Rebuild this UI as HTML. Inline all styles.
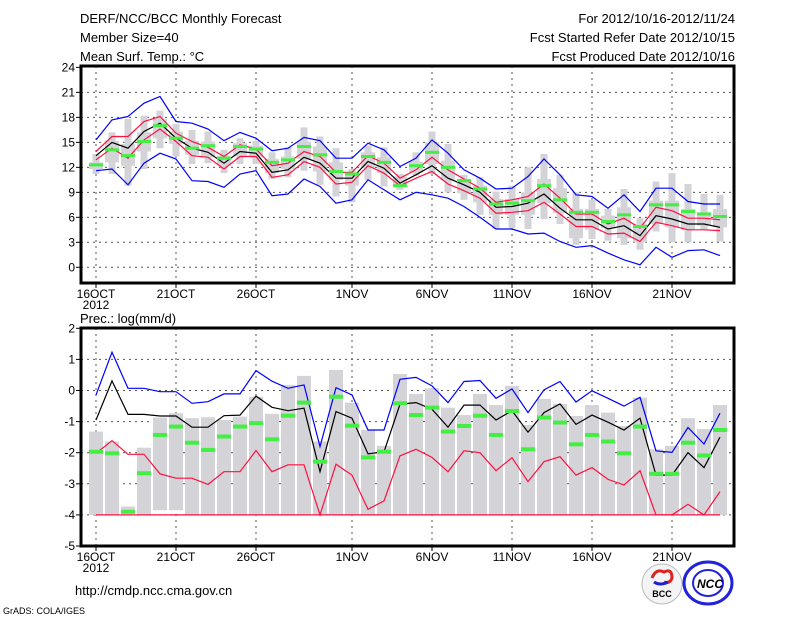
<!DOCTYPE html>
<html><head><meta charset="utf-8"><style>
body{margin:0;background:#fff;width:800px;height:618px;overflow:hidden}
svg{display:block}
text{font-family:"Liberation Sans",sans-serif;fill:#000}
</style></head><body>
<svg id="c" width="800" height="618" viewBox="0 0 800 618">
<g font-size="13">
<text x="80" y="23">DERF/NCC/BCC Monthly Forecast</text>
<text x="80" y="42">Member Size=40</text>
<text x="80" y="61">Mean Surf. Temp.: °C</text>
<text x="735" y="23" text-anchor="end">For 2012/10/16-2012/11/24</text>
<text x="735" y="42" text-anchor="end">Fcst Started Refer Date 2012/10/15</text>
<text x="735" y="61" text-anchor="end">Fcst Produced Date 2012/10/16</text>
<text x="80" y="323">Prec.: log(mm/d)</text>
<text x="75" y="595">http://cmdp.ncc.cma.gov.cn</text>
<text x="3" y="614" font-size="9">GrADS: COLA/IGES</text>
</g>
<g>
<circle cx="662" cy="584" r="20" fill="#f4f4f4" stroke="#bbb"/>
<path d="M652 578 q4 -10 12 -6 q8 -4 8 6 q-2 6 -8 4" stroke="#d22" stroke-width="3" fill="none"/>
<path d="M654 582 q6 4 14 0" stroke="#22c" stroke-width="3" fill="none"/>
<text x="662" y="597" font-size="9" font-weight="bold" text-anchor="middle" fill="#226">BCC</text>
<ellipse cx="708" cy="583" rx="24" ry="21" fill="#fff" stroke="#22d" stroke-width="3"/>
<ellipse cx="708" cy="583" rx="15" ry="13" fill="none" stroke="#22d" stroke-width="2"/>
<text x="710" y="588" font-size="12" font-weight="bold" text-anchor="middle" fill="#22d" font-style="italic">NCC</text>
</g>
<g id="topPanel"></g>
<g id="botPanel"></g>
</svg>
<script>
const days=40;
const dayTicks=[0,5,10,16,21,26,31,36];
const dayTickLabels=["16OCT","21OCT","26OCT","1NOV","6NOV","11NOV","16NOV","21NOV"];
const tTicks=[0,3,6,9,12,15,18,21,24];
const pTicks=[-5,-4,-3,-2,-1,0,1,2];
// temperature
const tBlueHi=[15.3,17.7,18.1,19.7,20.5,17.5,17.3,16.6,15.2,16.2,15.5,14,14.3,15.6,15.2,13.1,13.1,14.9,14.1,12.1,13.1,15.3,13.7,11.7,10.7,9.4,9.5,10.9,13,11.1,8.7,8.5,7.1,8.7,6.7,9.5,9.5,7.9,7.6,7.6];
const tBlueLo=[11.6,11.8,9.9,12.5,13.7,13,10.4,10.3,9.6,11.2,11.6,8.6,8.8,10.6,9.7,7.7,8.1,10.5,9.3,8.1,9,8.7,8.3,7.3,6,4.6,4.6,4,4.1,3.1,2.4,2.6,1.7,0.9,0.3,2.4,1.2,2,2.1,1.4];
const tMean=[13.4,15,14.3,16.3,17.3,15.5,14.3,13.8,12.5,13.9,13.7,11.4,11.7,13.2,12.5,10.7,10.7,12.7,11.9,10.1,11.1,12.2,10.7,9.9,9,7.2,7.3,7.7,8.8,7.1,5.7,5.7,4.6,5,3.8,6.2,5.8,5.2,5.2,4.8];
const tRedHi=[13.9,15.7,15.7,17.5,18.1,16.1,15.1,14.4,13.3,14.7,14.2,12.2,12.5,13.9,13.3,11.4,11.4,13.4,12.5,10.7,11.7,13.2,11.7,10.6,9.5,7.8,8.1,8.5,10,8.3,6.4,6.4,5.2,5.9,4.7,7.2,6.8,5.9,5.9,5.7];
const tRedLo=[12.9,14.3,13.1,15.3,16.6,15.1,13.4,13.2,11.8,13.3,13.3,10.8,11.1,12.7,12,10,10.2,12.2,11.3,9.8,10.7,11.5,10,9.2,8.3,6.5,6.6,6.8,7.8,6.4,4.9,4.9,4,4.1,3.1,5.4,5,4.5,4.5,4.4];
const tObs=[12.3,14.1,13.4,15.1,17,15.5,14.3,14.6,13.1,14.5,14.2,12.6,12.9,14.5,13.5,11.5,11.2,13.3,12.6,9.8,12.2,13.8,12,10.4,9.4,7.6,7.7,8,9.8,8.1,6.6,6.6,5.5,6.3,4.9,7.5,7.5,6.7,6.4,6.1];
const tMax=[13.6,16.2,17.8,18.2,18.8,17.2,16.5,16.3,14.1,15.5,15.2,13.8,14.4,16.8,15.7,14.3,11.8,14.6,14.4,11.2,13.8,16.3,14.8,11.1,10.8,9.1,9.8,12,13.6,11.1,9,8.1,7,9.4,5.9,10.3,11.3,10,8.8,8.7];
const tMin=[11.2,11.2,9.8,11.8,14.3,13.3,12.4,12.5,11.3,12.4,12.4,10.6,10.8,11.6,9.9,8.5,7.8,10.5,9.7,9.3,11,11.2,9,8.1,6.3,4.6,4.7,4.6,5.8,5.2,2.7,3.4,3.2,2.7,2.1,4.3,3,3,4.5,3.1];
const tQ3=[12.6,15.2,14.8,16.2,17.8,16.3,15.2,15.1,13.4,14.9,14.6,13,13.3,15.1,14.5,12.6,11.2,13.8,13.2,10.9,12.7,15,12.8,10.6,9.8,8.2,8.2,9,10.6,9.5,7,7,6.2,7.2,5.2,8,8,7,6.6,7];
const tQ1=[11.8,12.6,12.2,13.9,15.5,14.8,13.5,13.2,12.2,13.3,13.2,11.3,11.8,13,11.5,10.5,9.8,11.9,11.3,9.8,11.4,12.4,10.5,8.9,7.8,6.3,6.3,6.3,7.7,6.5,3.5,4.5,4.7,3.5,3,5.2,4.8,4.5,5,4.8];
// precipitation
const pBlue=[-0.14,1.23,0.07,0.07,-0.04,-0.04,-0.41,-0.36,-0.11,-0.11,0.64,0.3,0.07,0.18,-1.8,0.09,-0.14,-1.27,-1.27,0.36,0.42,0.15,-0.39,0.29,0.32,-0.25,0.05,-0.71,0.02,0.29,-0.37,-0.01,-0.25,-0.5,-0.22,-1.94,-1.99,-1.19,-1.72,-0.73];
const pMean=[-0.95,0.31,-0.77,-0.77,-0.82,-0.82,-1.18,-1.18,-0.81,-0.79,-0.18,-0.54,-0.65,-0.57,-2.61,-0.68,-0.89,-2.04,-1.97,-0.44,-0.39,-0.6,-1.18,-0.47,-0.47,-0.95,-0.65,-1.34,-0.71,-0.43,-1.09,-0.79,-1.02,-1.27,-0.89,-2.72,-2.72,-2,-2.48,-1.5];
const pRed=[-2.02,-1.61,-2.05,-2.05,-2.68,-2.82,-2.82,-3.02,-2.61,-2.61,-1.93,-2.61,-2.39,-2.39,-4,-2.37,-2.72,-3.82,-3.55,-2.1,-1.89,-2.15,-2.61,-1.94,-2,-2.58,-2.16,-2.93,-2.29,-2.13,-2.72,-2.48,-2.86,-3.04,-2.58,-4,-4,-3.66,-4,-3.25];
const pRedLo=[-4,-4,-4,-4,-4,-4,-4,-4,-4,-4,-4,-4,-4,-4,-4,-4,-4,-4,-4,-4,-4,-4,-4,-4,-4,-4,-4,-4,-4,-4,-4,-4,-4,-4,-4,-4,-4,-4,-4,-4];
const pObs=[-1.97,-2.02,-3.9,-2.66,-1.43,-1.16,-1.68,-1.91,-1.48,-1.16,-1.05,-1.57,-0.81,-0.39,-2.29,-0.2,-1.13,-2.15,-1.97,-0.41,-0.79,-0.55,-1.32,-1.14,-0.81,-1.43,-0.66,-1.89,-0.87,-1.03,-1.73,-1.43,-1.64,-2.02,-1.16,-2.68,-2.68,-1.68,-2.09,-1.27];
const pTop=[-1.32,-1.64,-3.73,-1.84,-0.87,-0.73,-0.89,-0.86,-0.95,-0.84,-0.2,-0.75,0.18,0.47,-1.64,0.66,-0.39,-1.27,-1.78,0.53,-0.11,0.07,-0.55,-0.79,-0.11,-0.47,0.15,-1.11,-0.27,-0.43,-0.82,-0.47,-0.71,-1.14,-0.23,-1.89,-1.78,-0.89,-1.24,-0.47];
const pBot=[-4,-4,-3.95,-4,-3.85,-3.85,-4,-4,-4,-4,-4,-4,-4,-4,-4,-4,-4,-4,-4,-4,-4,-4,-4,-4,-4,-4,-4,-4,-4,-4,-4,-4,-4,-4,-4,-4,-4,-4,-4,-4];

const NS='http://www.w3.org/2000/svg';
function mk(p,tag,a){const e=document.createElementNS(NS,tag);for(const k in a)e.setAttribute(k,a[k]);p.appendChild(e);return e;}
const X=i=>96+16*i;
function panel(g,L,T,R,B,Y,ticks,gridTicks){
  mk(g,'rect',{x:L,y:T,width:R-L,height:B-T,fill:'#fff'});
  gridTicks.forEach(v=>{const l=mk(g,'line',{x1:L,x2:R,y1:Y(v),y2:Y(v),stroke:'#555','stroke-dasharray':'2,4'});
    
    });
  dayTicks.forEach(d=>{const l=mk(g,'line',{x1:X(d),x2:X(d),y1:T,y2:B,stroke:'#555','stroke-dasharray':'2,4'});
    
    });
  ticks.forEach(v=>{mk(g,'line',{x1:L-5,x2:L,y1:Y(v),y2:Y(v),stroke:'#000'});
    const t=mk(g,'text',{x:L-6,y:Y(v)+4,'text-anchor':'end','font-size':'12'});t.textContent=v;
    
    });
  dayTicks.forEach((d,k)=>{mk(g,'line',{x1:X(d),x2:X(d),y1:B,y2:B+5,stroke:'#000'});
    const t=mk(g,'text',{x:X(d),y:B+15,'text-anchor':'middle','font-size':'12'});t.textContent=dayTickLabels[k];
    
    });
  const y2=mk(g,'text',{x:X(0),y:B+26,'text-anchor':'middle','font-size':'12'});y2.textContent='2012';
  
  
}
function line(g,arr,Y,col,name){
  const pts=arr.map((v,i)=>X(i)+','+Y(v).toFixed(1)).join(' ');
  const p=mk(g,'polyline',{points:pts,fill:'none',stroke:col,'stroke-width':'1.2'});
  
  
}
// top panel
const topG=document.getElementById('topPanel');
const YT=v=>267.3-v*8.33;
panel(topG,81,66,734,283,YT,tTicks,[0,3,6,9,12,15,18,21]);
for(let i=0;i<days;i++){
  const w=mk(topG,'rect',{x:X(i)-3.5,y:YT(tMax[i]),width:7,height:YT(tMin[i])-YT(tMax[i]),fill:'#d3d3d8'});
  
  
  const b=mk(topG,'rect',{x:X(i)-7,y:YT(tQ3[i]),width:14,height:YT(tQ1[i])-YT(tQ3[i]),fill:'#d3d3d8'});
  
  
}
line(topG,tBlueHi,YT,'#0000ff','temp-upper-blue');
line(topG,tBlueLo,YT,'#0000ff','temp-lower-blue');
line(topG,tRedHi,YT,'#ff1040','temp-upper-red');
line(topG,tRedLo,YT,'#ff1040','temp-lower-red');
line(topG,tMean,YT,'#000','temp-mean');
for(let i=0;i<days;i++){
  const o=mk(topG,'rect',{x:X(i)-7,y:YT(tObs[i])-1.5,width:14,height:3,fill:'#44ee44'});
  
  
}
mk(topG,'rect',{x:81,y:66,width:653,height:217,fill:'none',stroke:'#000','stroke-width':'3'});
// bottom panel
const botG=document.getElementById('botPanel');
const YB=v=>390.5-v*31.1;
panel(botG,81,328,734,546,YB,pTicks,[-4,-3,-2,-1,0,1]);
for(let i=0;i<days;i++){
  const b=mk(botG,'rect',{x:X(i)-7,y:YB(pTop[i]),width:14,height:YB(pBot[i])-YB(pTop[i]),fill:'#d3d3d8'});
  
  
}
line(botG,pBlue,YB,'#0000ff','prec-upper-blue');
line(botG,pRed,YB,'#ff1040','prec-lower-red');
line(botG,pRedLo,YB,'#ff1040','prec-floor-red');
line(botG,pMean,YB,'#000','prec-mean');
for(let i=0;i<days;i++){
  const o=mk(botG,'rect',{x:X(i)-7,y:YB(pObs[i])-2,width:14,height:4,fill:'#44ee44'});
  
  
}
mk(botG,'rect',{x:81,y:328,width:653,height:218,fill:'none',stroke:'#000','stroke-width':'3'});
</script>
</body></html>
